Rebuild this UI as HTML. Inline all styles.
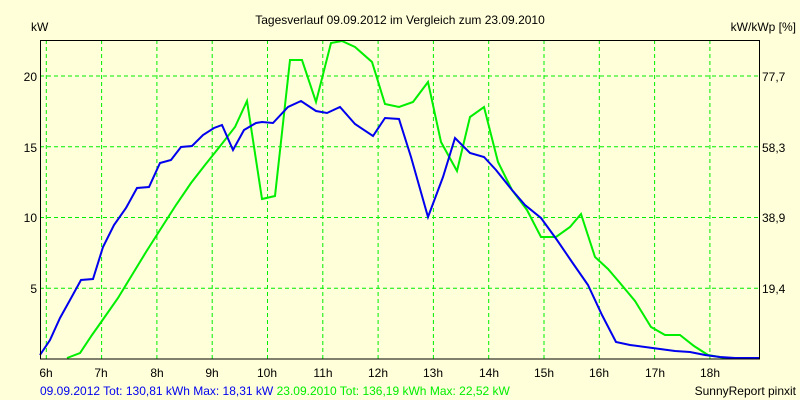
<!DOCTYPE html>
<html><head><meta charset="utf-8"><style>
html,body{margin:0;padding:0;background:#ffffd9;}
svg{display:block;font-family:"Liberation Sans",sans-serif;font-size:12px;}
</style></head><body>
<svg width="800" height="400" xmlns="http://www.w3.org/2000/svg">
<rect width="800" height="400" fill="#ffffd9"/>
<text x="400" y="24" text-anchor="middle">Tagesverlauf 09.09.2012 im Vergleich zum 23.09.2010</text>
<text x="31" y="31">kW</text>
<text x="796" y="31" text-anchor="end">kW/kWp [%]</text>
<g stroke="#00ee00" stroke-width="1" stroke-dasharray="4,3" fill="none">
<line x1="46.3" y1="40" x2="46.3" y2="359"/><line x1="101.6" y1="40" x2="101.6" y2="359"/>
<line x1="156.9" y1="40" x2="156.9" y2="359"/><line x1="212.2" y1="40" x2="212.2" y2="359"/>
<line x1="267.5" y1="40" x2="267.5" y2="359"/><line x1="322.8" y1="40" x2="322.8" y2="359"/>
<line x1="378.1" y1="40" x2="378.1" y2="359"/><line x1="433.4" y1="40" x2="433.4" y2="359"/>
<line x1="488.7" y1="40" x2="488.7" y2="359"/><line x1="544" y1="40" x2="544" y2="359"/>
<line x1="599.3" y1="40" x2="599.3" y2="359"/><line x1="654.6" y1="40" x2="654.6" y2="359"/>
<line x1="709.9" y1="40" x2="709.9" y2="359"/>
<line x1="40" y1="76" x2="760" y2="76"/><line x1="40" y1="146.8" x2="760" y2="146.8"/>
<line x1="40" y1="217.5" x2="760" y2="217.5"/><line x1="40" y1="288.2" x2="760" y2="288.2"/>
</g>
<g text-anchor="end"><text x="37" y="81">20</text><text x="37" y="152">15</text><text x="37" y="222">10</text><text x="37" y="293">5</text></g>
<g><text x="762" y="81">77,7</text><text x="762" y="152">58,3</text><text x="762" y="222">38,9</text><text x="762" y="293">19,4</text></g>
<g text-anchor="middle">
<text x="46" y="377">6h</text><text x="101" y="377">7h</text><text x="157" y="377">8h</text><text x="212" y="377">9h</text>
<text x="267" y="377">10h</text><text x="323" y="377">11h</text><text x="378" y="377">12h</text><text x="433" y="377">13h</text>
<text x="489" y="377">14h</text><text x="544" y="377">15h</text><text x="599" y="377">16h</text><text x="655" y="377">17h</text>
<text x="710" y="377">18h</text></g>
<polyline fill="none" stroke="#00ee00" stroke-width="2" points="67,358 80,353 92,335 104,318 118,298 132,275 146,252 160,230 176,205 191,183 205,165 221,145 235,127 247,101 262,199 275,196 290,60 302,60 316,102 331,43 342,41 355,47 372,62 385,104 399,107 413,102 428,82 441,142 457,171 470,117 484,107 498,162 512,190 527,210 541,237 556,237 570,227 581,214 595,257 608,269 620,283 635,301 651,327 665,335 680,335 694,346 708,355 725,358 760,358"/>
<polyline fill="none" stroke="#0000ee" stroke-width="2" points="40,355 50,340 60,318 70,300 81,280 93,279 103,247 114,225 126,208 137,188 149,187 160,163 171,160 181,147 192,146 203,135 214,128 222,125 233,150 244,130 256,123 262,122 273,123 288,107 301,101 316,111 327,113 340,107 355,124 373,136 385,118 399,119 411,157 428,217 443,177 455,138 470,153 484,157 496,170 512,190 525,205 541,218 557,240 572,262 588,285 602,315 616,342 630,345 645,347 660,349 675,351 690,352 705,355 720,357 735,358 760,358"/>
<rect x="40.5" y="40.5" width="719" height="318.5" fill="none" stroke="#000" stroke-width="1"/>
<text x="40" y="395"><tspan fill="#0000ee">09.09.2012 Tot: 130,81 kWh Max: 18,31 kW </tspan><tspan fill="#00ee00">23.09.2010 Tot: 136,19 kWh Max: 22,52 kW</tspan></text>
<text x="796" y="395" text-anchor="end">SunnyReport pinxit</text>
</svg>
</body></html>
